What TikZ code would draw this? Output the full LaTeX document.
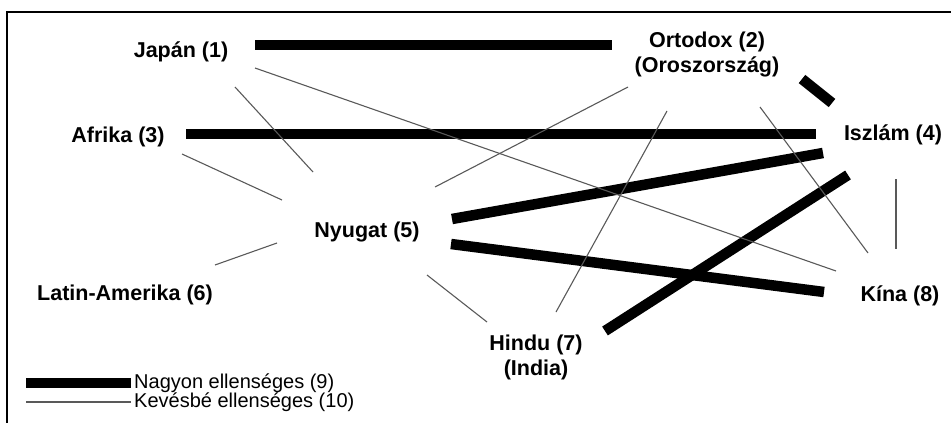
\documentclass[tikz,border=0pt]{standalone}
\usepackage{fontspec}
\setmainfont{Liberation Sans}
\usepackage{tikz}
\usetikzlibrary{positioning}
\tikzset{
    civ/.style={font=\fontsize{21.5}{25}\selectfont\bfseries, align=center, inner sep=0pt},
    hostile/.style={line width=10.5pt, black},
    mildline/.style={line width=1.1pt, black!65},
    keytext/.style={font=\fontsize{20}{22}\selectfont, inner sep=0pt, anchor=west},
    frame/.style={line width=2.5pt, black}
}

\begin{document}
\begin{tikzpicture}[x=1pt, y=-1pt]
        \useasboundingbox (0,0) rectangle (951,423);
        \draw[frame] (7,423) -- (7,12) -- (951,12);

        % civilisations
        \node[civ] (japan) at (181,52) {Japán (1)};
        \node[civ] (ortodox) at (707,54) {Ortodox (2)\\(Oroszország)};
        \node[civ] (afrika) at (118,137) {Afrika (3)};
        \node[civ] (iszlam) at (893,135) {Iszlám (4)};
        \node[civ] (nyugat) at (367,232) {Nyugat (5)};
        \node[civ] (latin) at (125,295) {Latin-Amerika (6)};
        \node[civ] (hindu) at (536,357) {Hindu (7)\\(India)};
        \node[civ] (kina) at (900,296) {Kína (8)};

        % line ends
        \coordinate (japanE) at (255,45);
        \coordinate (ortodoxW) at (612,45);
        \coordinate (afrikaE) at (186,134);
        \coordinate (iszlamW) at (816,134);
        \coordinate (ortodoxSE) at (802,79);
        \coordinate (iszlamN) at (832,103);
        \coordinate (nyugatNE) at (452,219);
        \coordinate (iszlamSW) at (823,153);
        \coordinate (nyugatE) at (451,244);
        \coordinate (kinaW) at (824,292);
        \coordinate (iszlamS) at (848,175);
        \coordinate (hinduNE) at (605,331);

        \coordinate (japanSE) at (255,68);
        \coordinate (kinaNW) at (836,271);
        \coordinate (japanS) at (235,87);
        \coordinate (nyugatNW) at (313,172);
        \coordinate (afrikaSE) at (182,154);
        \coordinate (nyugatW) at (282,200);
        \coordinate (ortodoxSW) at (628,87);
        \coordinate (nyugatN) at (435,187);
        \coordinate (ortodoxS) at (667,111);
        \coordinate (hinduN) at (556,312);
        \coordinate (ortodoxS2) at (760,107);
        \coordinate (kinaN) at (868,253);
        \coordinate (iszlamS2) at (896,179);
        \coordinate (kinaN2) at (896,249);
        \coordinate (nyugatSW) at (277,243);
        \coordinate (latinNE) at (215,265);
        \coordinate (nyugatS) at (427,275);
        \coordinate (hinduNW) at (487,322);

        % very hostile
        \draw[hostile] (japanE) -- (ortodoxW);
        \draw[hostile] (afrikaE) -- (iszlamW);
        \draw[hostile] (ortodoxSE) -- (iszlamN);
        \draw[hostile] (nyugatNE) -- (iszlamSW);
        \draw[hostile] (nyugatE) -- (kinaW);
        \draw[hostile] (iszlamS) -- (hinduNE);

        % less hostile
        \draw[mildline] (japanSE) -- (kinaNW);
        \draw[mildline] (japanS) -- (nyugatNW);
        \draw[mildline] (afrikaSE) -- (nyugatW);
        \draw[mildline] (ortodoxSW) -- (nyugatN);
        \draw[mildline] (ortodoxS) -- (hinduN);
        \draw[mildline] (ortodoxS2) -- (kinaN);
        \draw[mildline] (iszlamS2) -- (kinaN2);
        \draw[mildline] (nyugatSW) -- (latinNE);
        \draw[mildline] (nyugatS) -- (hinduNW);

        % key
        \coordinate (keyA) at (26,383);
        \coordinate (keyB) at (131,383);
        \coordinate (keyC) at (26,402);
        \coordinate (keyD) at (131,402);
        \draw[hostile] (keyA) -- (keyB);
        \draw[mildline] (keyC) -- (keyD);
        \node[keytext, right=3pt of keyB] (keyhostile) {Nagyon ellenséges (9)};
        \node[keytext, right=3pt of keyD] (keymild) {Kevésbé ellenséges (10)};
    \end{tikzpicture}
\end{document}
